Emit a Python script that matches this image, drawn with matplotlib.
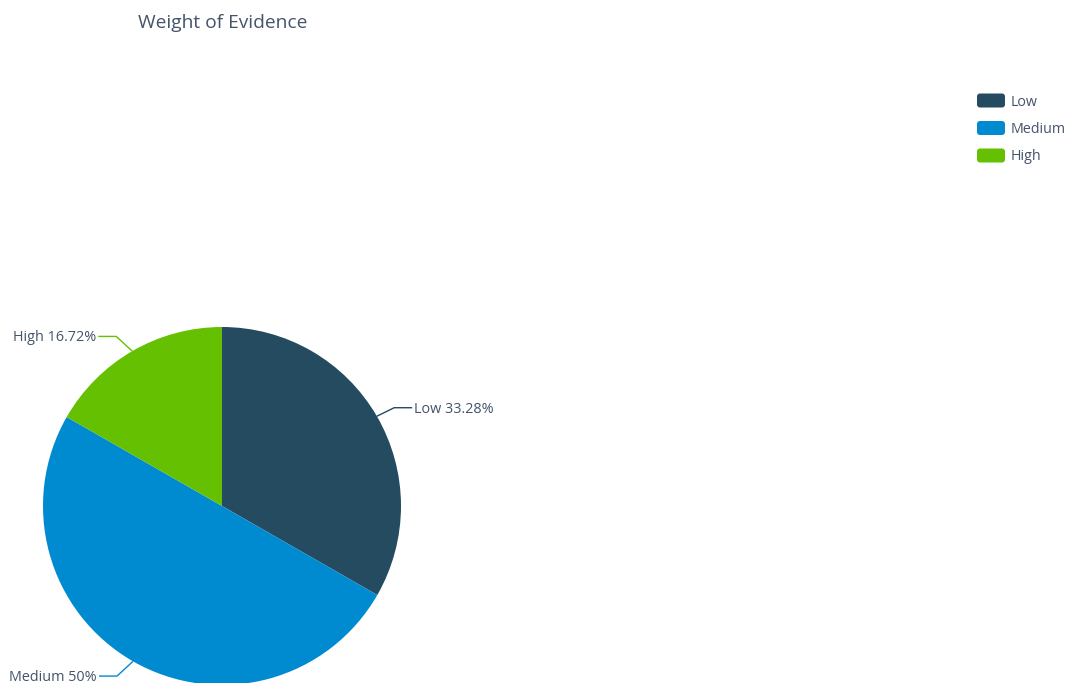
import numpy as np
import matplotlib.pyplot as plt
from matplotlib.patches import FancyBboxPatch

categories = ["Low", "Medium", "High"]
shares = [33.28, 50, 16.72]
share_labels = ["33.28%", "50%", "16.72%"]
colors = ["#254b60", "#008ad0", "#64c000"]

text_color = "#44546a"
plt.rcParams['font.family'] = ['Open Sans', 'DejaVu Sans']

W, H = 1066, 683
fig = plt.figure(figsize=(W / 100, H / 100), dpi=100)
ax = fig.add_axes([0, 0, 1, 1])

cx, cy, r = 222, H - 506, 179
wedges, _ = ax.pie(shares, colors=colors, startangle=90, counterclock=False,
                   center=(cx, cy), radius=r, frame=True,
                   wedgeprops=dict(linewidth=0))

ax.set_xlim(0, W)
ax.set_ylim(0, H)
ax.set_aspect('equal')
ax.axis('off')

# leader lines + labels
for w, name, lab, col in zip(wedges, categories, share_labels, colors):
    mid = np.deg2rad((w.theta1 + w.theta2) / 2)
    x0, y0 = cx + r * np.cos(mid), cy + r * np.sin(mid)
    side = 1 if np.cos(mid) >= 0 else -1
    x1 = x0 + side * max(16, abs(20 * np.cos(mid)))
    y1 = y0 + 17 * np.sin(mid)
    x2 = x1 + side * 18
    ax.plot([x0, x1, x2], [y0, y1, y1], color=col, lw=1, solid_capstyle='butt')
    ax.text(x2 + side * 2, y1 - 1.5, f"{name} {lab}", color=text_color, fontsize=10.4,
            ha='left' if side > 0 else 'right', va='center')

ax.text(138, H - 23.5, "Weight of Evidence", color=text_color, fontsize=13.8,
        ha='left', va='center')

# legend
for i, (name, col) in enumerate(zip(categories, colors)):
    yc = H - (100.5 + i * 27.5)
    box = FancyBboxPatch((977, yc - 7), 28, 14, boxstyle="round,pad=0,rounding_size=3",
                         facecolor=col, edgecolor='none')
    ax.add_patch(box)
    ax.text(1011, yc - 1.5, name, color=text_color, fontsize=10.3, ha='left', va='center')

fig.savefig("out.png", dpi=100)
